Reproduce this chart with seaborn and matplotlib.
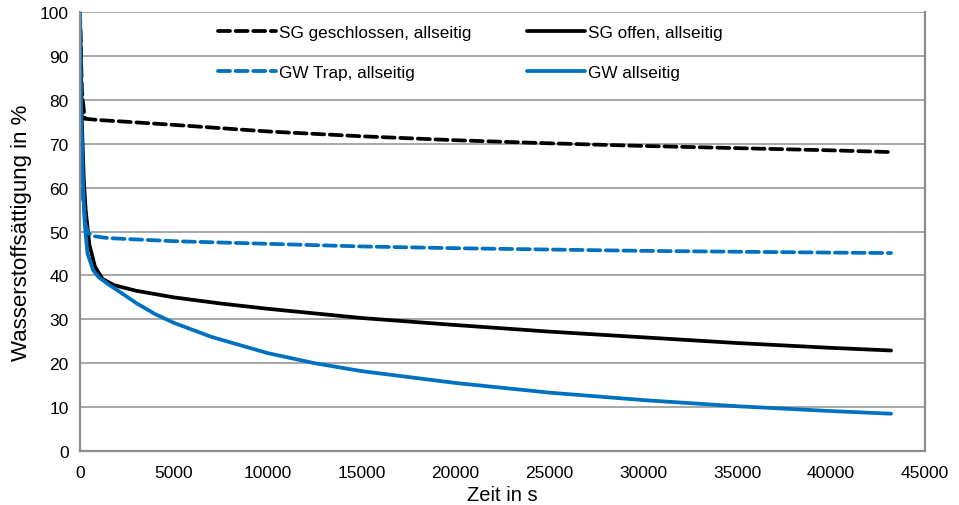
import numpy as np
import pandas as pd
import matplotlib
matplotlib.use('Agg')
import matplotlib.pyplot as plt
import seaborn as sns

# values (time in s, saturation in %)
t_sg_geschlossen = [0, 100, 250, 1000, 2500, 5000, 10000, 15000, 20000, 25000, 30000, 35000, 40000, 43200]
sg_geschlossen = [100, 82, 75.7, 75.4, 75.0, 74.3, 72.8, 71.7, 70.8, 70.1, 69.5, 69.0, 68.5, 68.1]

t_sg_offen = [0, 100, 200, 300, 500, 800, 1200, 1800, 3000, 5000, 7500, 10000, 15000, 20000, 25000, 30000, 35000, 40000, 43200]
sg_offen = [100, 75, 62, 55, 47, 42, 39.2, 37.8, 36.5, 35.0, 33.6, 32.4, 30.3, 28.7, 27.2, 25.9, 24.6, 23.5, 22.9]

t_gw_trap = [0, 50, 150, 300, 450, 800, 1500, 3000, 5000, 10000, 15000, 20000, 25000, 30000, 35000, 40000, 43200]
gw_trap = [100, 75, 58, 51.5, 49.6, 48.9, 48.5, 48.2, 47.8, 47.2, 46.6, 46.2, 45.9, 45.6, 45.4, 45.2, 45.1]

t_gw = [0, 50, 150, 250, 400, 700, 1000, 1500, 2000, 3000, 4000, 5000, 7000, 10000, 12500, 15000, 20000, 25000, 30000, 35000, 40000, 43200]
gw = [100, 80, 62, 52, 45, 41.2, 39.6, 38.0, 36.6, 33.7, 31.2, 29.2, 26.0, 22.3, 20.0, 18.2, 15.5, 13.3, 11.6, 10.2, 9.1, 8.5]

names = ['SG geschlossen, allseitig', 'SG offen, allseitig', 'GW Trap, allseitig', 'GW allseitig']
times = [t_sg_geschlossen, t_sg_offen, t_gw_trap, t_gw]
values = [sg_geschlossen, sg_offen, gw_trap, gw]

frames = []
for name, t, v in zip(names, times, values):
    frames.append(pd.DataFrame({'Zeit': t, 'Wert': v, 'Reihe': name}))
data = pd.concat(frames, ignore_index=True)

sns.set_style('white')
plt.rcParams['font.family'] = ['Liberation Sans', 'DejaVu Sans']
plt.rcParams['text.color'] = 'black'
plt.rcParams['axes.labelcolor'] = 'black'

blue = '#0070C0'
palette = {names[0]: 'black', names[1]: 'black', names[2]: blue, names[3]: blue}
dashes = {names[0]: (3.2, 1.5), names[1]: '', names[2]: (3.2, 1.5), names[3]: ''}

fig = plt.figure(figsize=(9.59, 5.06), dpi=100)
ax = fig.add_axes([0.0834, 0.1067, 0.881, 0.8675])

sns.lineplot(data=data, x='Zeit', y='Wert', hue='Reihe', style='Reihe',
             palette=palette, dashes=dashes, linewidth=2.7, ax=ax,
             estimator=None, sort=False)
for line in ax.lines:
    line.set_dash_capstyle('round')
    line.set_solid_capstyle('round')

ax.set_xlim(0, 45000)
ax.set_ylim(0, 100)
ax.set_xticks(np.arange(0, 45001, 5000))
ax.set_yticks(np.arange(0, 101, 10))
ax.yaxis.grid(True, color='#A0A0A0', linewidth=1.3)
ax.set_axisbelow(True)

grey = '#8C8C8C'
for side in ['left', 'bottom', 'right']:
    ax.spines[side].set_color(grey)
    ax.spines[side].set_linewidth(1.6)
ax.spines['top'].set_visible(False)
ax.tick_params(axis='both', direction='out', length=5, width=1.3, color=grey,
               labelsize=12.5, labelcolor='black', pad=3)
ax.tick_params(axis='x', pad=5)

ax.set_xlabel('Zeit in s', fontsize=14.5, labelpad=4)
ax.set_ylabel('Wasserstoffsättigung in %', fontsize=16, labelpad=6)

handles, labels = ax.get_legend_handles_labels()
lookup = dict(zip(labels, handles))
order = [names[0], names[2], names[1], names[3]]
leg = ax.legend([lookup[n] for n in order], order, ncol=2, frameon=False,
                fontsize=12.3, handlelength=3.4, handletextpad=0.15,
                columnspacing=3.3, labelspacing=1.45,
                loc='upper left', bbox_to_anchor=(0.145, 1.005))
for h in leg.get_lines():
    h.set_linewidth(2.7)

fig.savefig('out.png', dpi=100)
